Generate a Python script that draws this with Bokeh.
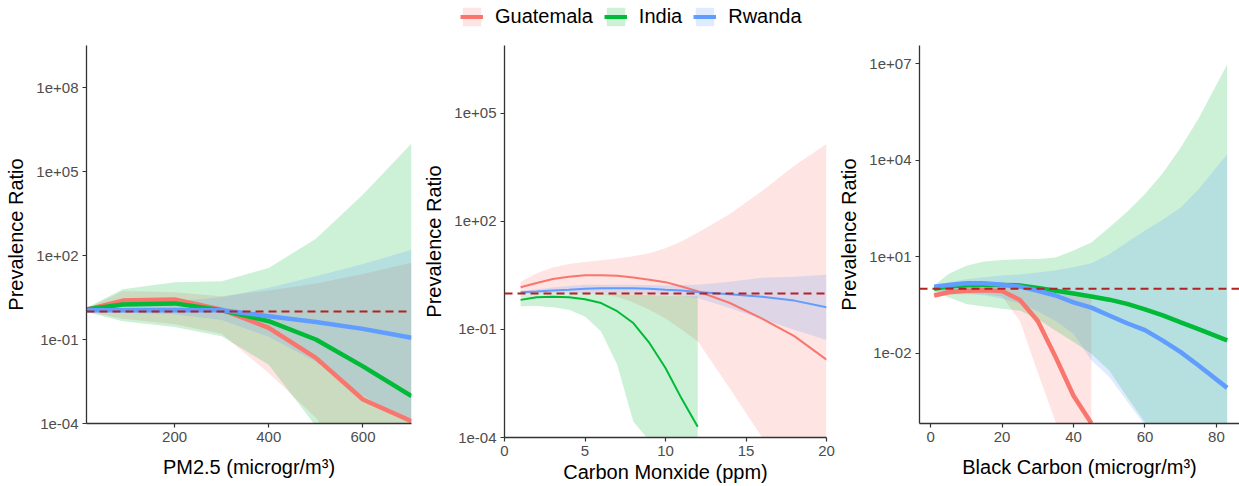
from bokeh.plotting import figure
from bokeh.layouts import row, column
from bokeh.models import (Range1d, FixedTicker, CustomJSTickFormatter, Span,
                          Legend, LegendItem, ColumnDataSource)
from bokeh.embed import file_html
from bokeh.resources import INLINE

countries = ["Guatemala", "India", "Rwanda"]
colors = ["#F8766D", "#00BA38", "#619CFF"]

# ---- Panel 1: PM2.5 ----
pm_x = [13, 90, 200, 300, 400, 500, 600, 703]
pm_guat = [1.17, 2.45, 2.7, 1.17, 0.26, 0.022, 7.2e-4, 1.2e-4]
pm_guat_lo = [1.0, 0.55, 0.35, 0.16, 6.3e-3, 1.6e-4, 1e-6, 1e-8]
pm_guat_hi = [1.25, 5.4, 4.9, 3.5, 5.6, 10, 22, 55]
pm_india = [1.17, 1.78, 1.95, 1.1, 0.45, 0.1, 0.011, 9.5e-4]
pm_india_lo = [0.95, 0.45, 0.28, 0.13, 0.0126, 8e-5, 3e-7, 1e-9]
pm_india_hi = [1.35, 6.2, 11, 12, 36, 400, 1.5e4, 1e6]
pm_rwa = [1.1, 1.1, 1.12, 1.1, 0.68, 0.42, 0.24, 0.115]
pm_rwa_lo = [1.0, 0.9, 0.8, 0.5, 0.125, 0.016, 1e-3, 1e-4]
pm_rwa_hi = [1.17, 1.55, 2.3, 3.2, 7.1, 18, 50, 160]

# ---- Panel 2: Carbon monoxide ----
co_x = [1, 2, 3, 4, 5, 6, 7, 8, 9, 10, 11, 12, 14, 16, 18, 20]
co_india_x = [1, 2, 3, 4, 5, 6, 7, 8, 9, 10, 11, 12]
co_guat = [1.48, 1.95, 2.5, 2.9, 3.2, 3.2, 3.1, 2.75, 2.4, 2.05, 1.55, 1.15, 0.54, 0.2, 0.065, 0.0145]
co_guat_lo = [0.91, 0.95, 1.0, 1.0, 1.0, 0.95, 0.8, 0.56, 0.35, 0.2, 0.1, 0.047, 2.3e-3, 1e-4, 5e-6, 2.5e-7]
co_guat_hi = [2.1, 3.6, 5.2, 6.5, 7.4, 8.3, 9.3, 10.7, 13, 18, 28, 48, 160, 700, 3500, 1.4e4]
co_india = [0.66, 0.78, 0.81, 0.78, 0.69, 0.54, 0.32, 0.15, 0.042, 8.5e-3, 1.2e-3, 2e-4]
co_india_lo = [0.44, 0.45, 0.41, 0.35, 0.23, 0.087, 0.0105, 2.8e-4, 8e-5, 1e-5, 1e-6, 1e-7]
co_india_hi = [0.92, 0.95, 0.97, 0.97, 0.97, 0.96, 0.95, 0.93, 0.9, 0.88, 0.85, 0.82]
co_rwa = [1.07, 1.12, 1.2, 1.27, 1.35, 1.38, 1.38, 1.38, 1.35, 1.26, 1.2, 1.1, 0.95, 0.81, 0.63, 0.41]
co_rwa_lo = [0.95, 0.97, 0.98, 0.99, 1.0, 1.0, 1.0, 0.98, 0.96, 0.92, 0.85, 0.74, 0.39, 0.19, 0.098, 0.051]
co_rwa_hi = [1.17, 1.3, 1.45, 1.6, 1.75, 1.75, 1.75, 1.75, 1.7, 1.65, 1.7, 1.75, 2.1, 2.7, 2.9, 3.3]

# ---- Panel 3: Black carbon ----
bc_x = [1, 5, 10, 15, 20, 25, 30, 35, 40, 45, 50, 55, 60, 65, 70, 75, 83]
bc_guat_x = [1, 5, 10, 15, 20, 25, 30, 35, 40, 45]
bc_guat = [0.62, 0.78, 0.87, 0.9, 0.85, 0.45, 0.1, 7.5e-3, 4.7e-4, 6.6e-5]
bc_guat_lo = [0.55, 0.66, 0.68, 0.68, 0.58, 0.1, 2.5e-3, 7e-5, 3e-6, 3e-7]
bc_guat_hi = [0.87, 1.07, 1.2, 1.2, 1.15, 1.0, 0.8, 0.7, 0.63, 0.56]
bc_india = [1.0, 1.17, 1.3, 1.32, 1.32, 1.28, 1.07, 0.87, 0.72, 0.58, 0.46, 0.34, 0.23, 0.15, 0.091, 0.056, 0.025]
bc_india_lo = [0.87, 0.55, 0.34, 0.28, 0.24, 0.21, 0.115, 0.05, 0.022, 9.5e-3, 2.9e-3, 4.3e-4, 7e-5, 1e-5, 1.6e-6, 2.5e-7, 1e-8]
bc_india_hi = [1.26, 2.9, 5.2, 7.1, 7.9, 8.3, 8.5, 9.5, 15.5, 27.5, 81, 250, 890, 4000, 2.5e4, 2e5, 9.5e6]
bc_rwa = [1.17, 1.32, 1.48, 1.48, 1.35, 1.17, 0.87, 0.62, 0.38, 0.26, 0.148, 0.085, 0.052, 0.0245, 0.0107, 4.1e-3, 8.3e-4]
bc_rwa_lo = [0.93, 0.79, 0.71, 0.63, 0.5, 0.35, 0.2, 0.1, 0.04, 6e-3, 1.8e-3, 3.2e-4, 5.6e-5, 1e-5, 1.6e-6, 2.5e-7, 1e-8]
bc_rwa_hi = [1.26, 1.58, 2.0, 2.3, 2.6, 2.8, 3.2, 3.8, 4.7, 6.3, 12, 28, 65, 140, 340, 1260, 1.55e4]

pm_xticks = [200, 400, 600]
co_xticks = [0, 5, 10, 15, 20]
bc_xticks = [0, 20, 40, 60, 80]
pm_yticks = [1e-4, 1e-1, 1e2, 1e5, 1e8]
co_yticks = [1e-4, 1e-1, 1e2, 1e5]
bc_yticks = [1e-2, 1e1, 1e4, 1e7]

FONT = "Liberation Sans"
fmt_code = """
const e = Math.round(Math.log10(tick));
const s = e < 0 ? '-' : '+';
const a = Math.abs(e);
return '1e' + s + (a < 10 ? '0' + a : '' + a);
"""


def panel(width, bl, br, bb, xr, yr, xticks, yticks, xlabel, series, lw, xstand, lstand):
    p = figure(width=width, height=452, x_range=Range1d(*xr), y_range=Range1d(*yr),
               y_axis_type="log", output_backend="svg", toolbar_location=None,
               min_border_left=bl, min_border_right=br, min_border_top=11,
               min_border_bottom=bb)
    p.outline_line_color = None
    p.grid.visible = False
    for (x, y, lo, hi), c in zip(series, colors):
        p.varea(x=x, y1=lo, y2=hi, fill_color=c, fill_alpha=0.2)
    for (x, y, lo, hi), c in zip(series, colors):
        p.line(x=x, y=y, line_color=c, line_width=lw)
    p.add_layout(Span(location=1, dimension="width", line_color="#B22222",
                      line_dash="8 5", line_width=2))
    p.xaxis.ticker = FixedTicker(ticks=xticks)
    p.yaxis.ticker = FixedTicker(ticks=yticks)
    p.yaxis.formatter = CustomJSTickFormatter(code=fmt_code)
    p.xaxis.axis_label = xlabel
    p.yaxis.axis_label = "Prevalence Ratio"
    for ax in p.axis:
        ax.axis_line_color = "#333333"
        ax.axis_line_width = 1.3
        ax.major_tick_line_color = "#333333"
        ax.major_tick_line_width = 1.2
        ax.major_tick_in = 0
        ax.major_tick_out = 4
        ax.minor_tick_line_color = None
        ax.major_label_standoff = 4
        ax.major_label_text_font = FONT
        ax.major_label_text_font_size = "15px"
        ax.major_label_text_color = "#4D4D4D"
        ax.axis_label_text_font = FONT
        ax.axis_label_text_font_size = "20px"
        ax.axis_label_text_font_style = "normal"
        ax.axis_label_text_color = "#000000"
        ax.axis_label_standoff = 6
    p.xaxis.axis_label_standoff = xstand
    p.xaxis.major_label_standoff = lstand
    return p


p1 = panel(420, 86, 9, 63, (13, 703), (1e-4, 10 ** 9.5), pm_xticks, pm_yticks,
           "PM2.5 (microgr/m³)",
           [(pm_x, pm_guat, pm_guat_lo, pm_guat_hi),
            (pm_x, pm_india, pm_india_lo, pm_india_hi),
            (pm_x, pm_rwa, pm_rwa_lo, pm_rwa_hi)], 4.5, 11, 4)
p2 = panel(415, 82, 9, 49, (0, 20), (1e-4, 10 ** 6.88), co_xticks, co_yticks,
           "Carbon Monxide (ppm)",
           [(co_x, co_guat, co_guat_lo, co_guat_hi),
            (co_india_x, co_india, co_india_lo, co_india_hi),
            (co_x, co_rwa, co_rwa_lo, co_rwa_hi)], 2, 2, 4)
p3 = panel(404, 83, 0, 63, (-3.1, 86.45), (10 ** -4.19, 10 ** 7.57), bc_xticks, bc_yticks,
           "Black Carbon (microgr/m³)",
           [(bc_guat_x, bc_guat, bc_guat_lo, bc_guat_hi),
            (bc_x, bc_india, bc_india_lo, bc_india_hi),
            (bc_x, bc_rwa, bc_rwa_lo, bc_rwa_hi)], 4.5, 11, 4)

# legend strip (legend keys only; the NaN row draws nothing)
lf = figure(width=1239, height=34, x_range=Range1d(0, 1), y_range=Range1d(0, 1),
            output_backend="svg", toolbar_location=None, min_border=0,
            x_axis_location=None, y_axis_location=None)
lf.outline_line_color = None
lf.grid.visible = False
nan = float("nan")
items = []
for name, c in zip(countries, colors):
    src = ColumnDataSource(dict(x=[nan], y=[nan], y1=[nan], y2=[nan]))
    ra = lf.varea(x="x", y1="y1", y2="y2", source=src, fill_color=c, fill_alpha=0.2)
    rl = lf.line(x="x", y="y", source=src, line_color=c, line_width=4)
    items.append(LegendItem(label=name, renderers=[ra, rl]))
legend = Legend(items=items, orientation="horizontal", location=(460, 6),
                glyph_width=23, glyph_height=23, label_standoff=12, spacing=11,
                padding=0, margin=0, border_line_color=None, background_fill_alpha=0,
                label_text_font=FONT, label_text_font_size="20px",
                label_text_color="#000000")
lf.add_layout(legend, "center")

layout = column(lf, row(p1, column(p2), p3))
open("out.html", "w").write(file_html(layout, INLINE, title="Prevalence Ratio"))
